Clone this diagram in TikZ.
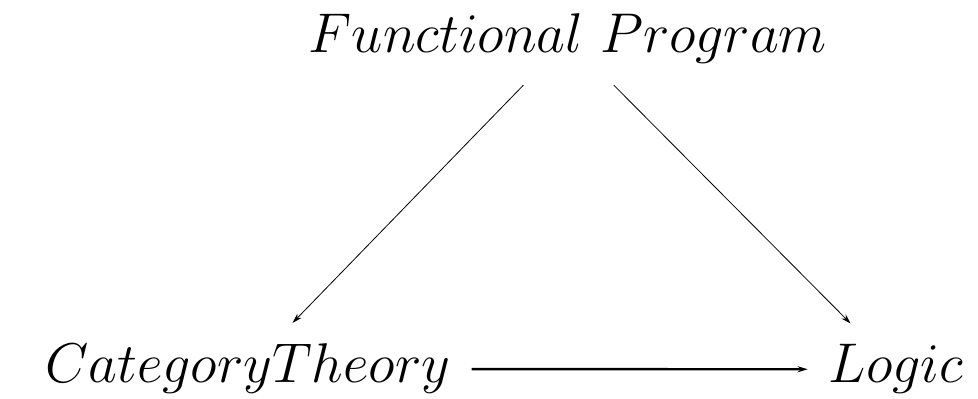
\documentclass[tikz,border=0pt]{standalone}
\usepackage{fix-cm}
\usetikzlibrary{positioning, arrows.meta}

\begin{document}
\begin{tikzpicture}[
  x=1pt, y=1pt,
  lbl/.style={font=\fontsize{56}{60}\selectfont, inner sep=21pt},
  thinarr/.style={-{Stealth[length=10pt,width=6pt]}, line width=0.8pt},
  thickarr/.style={-{Stealth[length=10pt,width=6pt]}, line width=2.4pt}
]
\useasboundingbox (0,0) rectangle (978,399);
\node[lbl, anchor=base] (fp)    at (568,346) {$Functional\ Program$};
\node[lbl, anchor=base] (ct)    at (248,16)  {$Category Theory$};
\node[lbl, anchor=base] (logic) at (896,16)  {$Logic$};
\draw[thinarr] (fp) -- (ct);
\draw[thinarr] (fp) -- (logic);
\draw[thickarr] (ct) -- (logic);
\end{tikzpicture}
\end{document}
